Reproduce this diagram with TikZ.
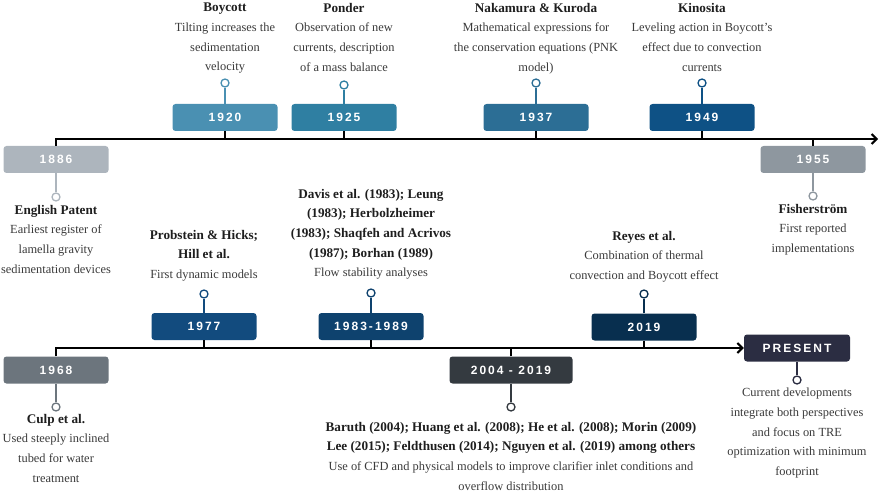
\documentclass[tikz,border=0pt]{standalone}
\usepackage{fontspec}
\setmainfont{Liberation Serif}
\newfontfamily\yearfont[LetterSpace=17]{Liberation Sans}
\usetikzlibrary{arrows.meta}
\definecolor{c1886}{HTML}{ADB5BD}
\definecolor{c1920}{HTML}{4A90B2}
\definecolor{c1925}{HTML}{2F7FA2}
\definecolor{c1937}{HTML}{2C6E95}
\definecolor{c1949}{HTML}{0E5185}
\definecolor{c1955}{HTML}{8E979F}
\definecolor{c1968}{HTML}{6C757D}
\definecolor{c1977}{HTML}{124B7E}
\definecolor{c1983}{HTML}{0E426E}
\definecolor{c2004}{HTML}{343A40}
\definecolor{c2019}{HTML}{082F4F}
\definecolor{cPres}{HTML}{2B2D42}
\definecolor{bodyc}{HTML}{3A3A3A}
\definecolor{titlec}{HTML}{1E1E1E}
\newcommand\mytitle[1]{{\color{titlec}\bfseries\fontsize{13.2}{19.6}\selectfont #1}}
\tikzset{
  yearbox/.style={rounded corners=3pt, minimum width=105, minimum height=27, inner sep=0,
    text=white, font=\yearfont\bfseries\fontsize{12}{14}\selectfont, fill=#1},
  circ/.style={circle, minimum size=8, inner sep=0, line width=1.3, fill=white, draw=#1},
  stem/.style={line width=1.3, draw=#1},
  tl/.style={line width=2, draw=black},
  txt/.style={align=center, inner sep=0, anchor=north, text=bodyc,
    font=\fontsize{12.4}{19.6}\selectfont},
}
\begin{document}
\begin{tikzpicture}[x=1pt,y=-1pt]
\useasboundingbox (0,0) rectangle (883,497);
% axis anchor coordinates
\coordinate (L0) at (56,139);
\coordinate (LE) at (878,139);
\coordinate (L1) at (56,348);
% year boxes
\node[yearbox=c1886] (b1886) at (56,159.5) {1886};
\node[yearbox=c1920] (b1920) at (225,117.5) {1920};
\node[yearbox=c1925] (b1925) at (344,117.5) {1925};
\node[yearbox=c1937] (b1937) at (536,117.5) {1937};
\node[yearbox=c1949] (b1949) at (702,117.5) {1949};
\node[yearbox=c1955] (b1955) at (813,159.5) {1955};
\node[yearbox=c1968] (b1968) at (56,370) {1968};
\node[yearbox=c1977] (b1977) at (204,326.5) {1977};
\node[yearbox=c1983] (b1983) at (371,326.5) {1983-1989};
\node[yearbox=c2004, minimum width=123] (b2004) at (511,370) {2004 - 2019};
\node[yearbox=c2019] (b2019) at (644,327) {2019};
\node[yearbox=cPres, minimum width=106] (bPres) at (797,348) {PRESENT};
% timelines
\draw[tl, -{Straight Barb[length=5pt,width=10pt,line width=2pt]}] (b1886.north) -- (b1886.north |- L0) -- (LE);
\draw[tl, -{Straight Barb[length=5pt,width=10pt,line width=2pt]}] (b1968.north) -- (b1968.north |- L1) -- (bPres.west);
\draw[tl] (b1920.south) -- (b1920.south |- L0);
\draw[tl] (b1925.south) -- (b1925.south |- L0);
\draw[tl] (b1937.south) -- (b1937.south |- L0);
\draw[tl] (b1949.south) -- (b1949.south |- L0);
\draw[tl] (b1955.north) -- (b1955.north |- L0);
\draw[tl] (b1977.south) -- (b1977.south |- L1);
\draw[tl] (b1983.south) -- (b1983.south |- L1);
\draw[tl] (b2004.north) -- (b2004.north |- L1);
\draw[tl] (b2019.south) -- (b2019.south |- L1);
% circles
\node[circ=c1886] (k1886) at (56,197) {};
\node[circ=c1920] (k1920) at (225,83) {};
\node[circ=c1925] (k1925) at (344,85) {};
\node[circ=c1937] (k1937) at (536,83) {};
\node[circ=c1949] (k1949) at (702,83) {};
\node[circ=c1955] (k1955) at (813,196) {};
\node[circ=c1968] (k1968) at (56,407) {};
\node[circ=c1977] (k1977) at (204,294) {};
\node[circ=c1983] (k1983) at (371,293) {};
\node[circ=c2004] (k2004) at (511,407) {};
\node[circ=c2019] (k2019) at (644,294) {};
\node[circ=cPres] (kPres) at (797,380) {};
% stems
\draw[stem=c1886] (b1886) -- (k1886);
\draw[stem=c1920] (b1920) -- (k1920);
\draw[stem=c1925] (b1925) -- (k1925);
\draw[stem=c1937] (b1937) -- (k1937);
\draw[stem=c1949] (b1949) -- (k1949);
\draw[stem=c1955] (b1955) -- (k1955);
\draw[stem=c1968] (b1968) -- (k1968);
\draw[stem=c1977] (b1977) -- (k1977);
\draw[stem=c1983] (b1983) -- (k1983);
\draw[stem=c2004] (b2004) -- (k2004);
\draw[stem=c2019] (b2019) -- (k2019);
\draw[stem=cPres] (bPres) -- (kPres);
% texts
\node[txt] (t1920) at (225,3) {\mytitle{Boycott}\\Tilting increases the\\sedimentation\\velocity};
\node[txt] (t1925) at (344,3) {\mytitle{Ponder}\\Observation of new\\currents, description\\of a mass balance};
\node[txt] (t1937) at (536,3) {\mytitle{Nakamura \& Kuroda}\\Mathematical expressions for\\the conservation equations (PNK\\model)};
\node[txt] (t1949) at (702,3) {\mytitle{Kinosita}\\Leveling action in Boycott's\\effect due to convection\\currents};
\node[txt] (t1886) at (56,205) {\mytitle{English Patent}\\Earliest register of\\lamella gravity\\sedimentation devices};
\node[txt] (t1955) at (813,204) {\mytitle{Fisherström}\\First reported\\implementations};
\node[txt] (t1977) at (204,230) {\mytitle{Probstein \& Hicks;}\\\mytitle{Hill et al.}\\First dynamic models};
\node[txt] (t1983) at (371,189) {\mytitle{Davis et al. (1983); Leung}\\\mytitle{(1983); Herbolzheimer}\\\mytitle{(1983); Shaqfeh and Acrivos}\\\mytitle{(1987); Borhan (1989)}\\Flow stability analyses};
\node[txt] (t2019) at (644,231) {\mytitle{Reyes et al.}\\Combination of thermal\\convection and Boycott effect};
\node[txt] (t1968) at (56,414) {\mytitle{Culp et al.}\\Used steeply inclined\\tubed for water\\treatment};
\node[txt] (t2004) at (511,422) {\mytitle{Baruth (2004); Huang et al. (2008); He et al. (2008); Morin (2009)}\\\mytitle{Lee (2015); Feldthusen (2014); Nguyen et al. (2019) among others}\\Use of CFD and physical models to improve clarifier inlet conditions and\\overflow distribution};
\node[txt] (tPres) at (797,388) {Current developments\\integrate both perspectives\\and focus on TRE\\optimization with minimum\\footprint};
\end{tikzpicture}
\end{document}
